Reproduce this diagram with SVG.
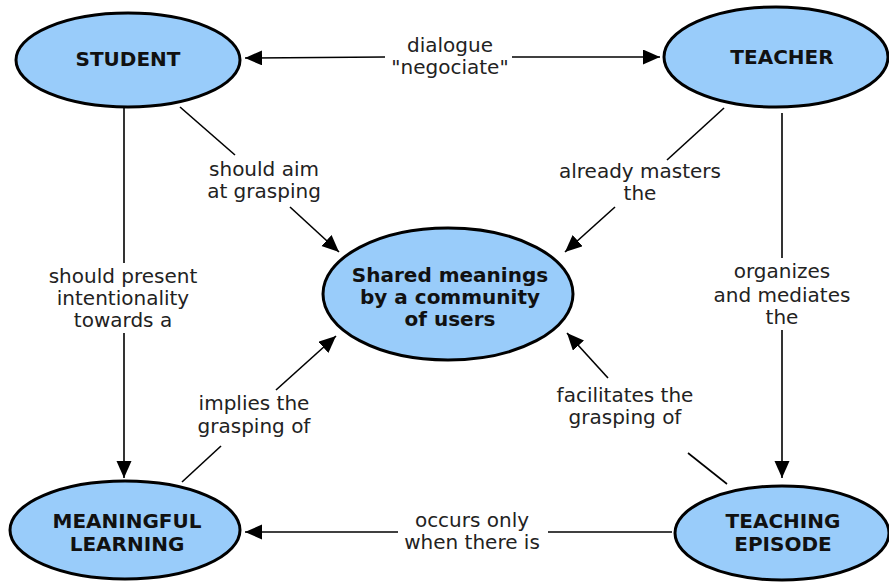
<svg xmlns="http://www.w3.org/2000/svg" width="889" height="582" viewBox="0 0 889 582">
<defs>
<marker id="arr" markerUnits="userSpaceOnUse" markerWidth="20" markerHeight="18" refX="17" refY="7.5" orient="auto-start-reverse">
<path d="M0,0 L17,7.5 L0,15 z" fill="#000"/>
</marker>
<style>
.node ellipse{fill:#99ccfa;stroke:#000;stroke-width:3}
.node text{font-family:"DejaVu Sans",Verdana,sans-serif;font-weight:bold;font-size:20px;text-anchor:middle;fill:#111}
.lbl{font-family:"DejaVu Sans",Verdana,sans-serif;font-size:20px;text-anchor:middle;fill:#222}
.ln{stroke:#000;stroke-width:1.6;fill:none}
.ar{marker-end:url(#arr)}
</style>
</defs>
<rect width="889" height="582" fill="#fff"/>
<g id="connectors">
<line class="ln ar" x1="385" y1="57" x2="245" y2="58"/>
<line class="ln ar" x1="512" y1="57" x2="660" y2="57"/>
<text class="lbl" x="450" y="52">dialogue</text>
<text class="lbl" x="450" y="74">"negociate"</text>

<line class="ln" x1="180" y1="107" x2="235" y2="155"/>
<line class="ln ar" x1="290" y1="207" x2="339" y2="252"/>
<text class="lbl" x="264" y="176">should aim</text>
<text class="lbl" x="264" y="198">at grasping</text>

<line class="ln" x1="124" y1="107" x2="124" y2="263"/>
<line class="ln ar" x1="124" y1="333" x2="124" y2="478"/>
<text class="lbl" x="123" y="283">should present</text>
<text class="lbl" x="123" y="305">intentionality</text>
<text class="lbl" x="123" y="327">towards a</text>

<line class="ln" x1="724" y1="108" x2="667" y2="160"/>
<line class="ln ar" x1="615" y1="207" x2="565" y2="252"/>
<text class="lbl" x="640" y="178">already masters</text>
<text class="lbl" x="640" y="200">the</text>

<line class="ln" x1="782" y1="113" x2="782" y2="258"/>
<line class="ln ar" x1="782" y1="330" x2="782" y2="478"/>
<text class="lbl" x="782" y="278">organizes</text>
<text class="lbl" x="782" y="302">and mediates</text>
<text class="lbl" x="782" y="324">the</text>

<line class="ln" x1="182" y1="482" x2="221" y2="446"/>
<line class="ln ar" x1="276" y1="390" x2="336" y2="336"/>
<text class="lbl" x="254" y="410">implies the</text>
<text class="lbl" x="254" y="433">grasping of</text>

<line class="ln" x1="727" y1="484" x2="688" y2="453"/>
<line class="ln ar" x1="608" y1="378" x2="567" y2="333"/>
<text class="lbl" x="625" y="402">facilitates the</text>
<text class="lbl" x="625" y="424">grasping of</text>

<line class="ln" x1="672" y1="532" x2="548" y2="532"/>
<line class="ln ar" x1="398" y1="532" x2="245" y2="532"/>
<text class="lbl" x="472" y="527">occurs only</text>
<text class="lbl" x="472" y="549">when there is</text>
</g>
<g id="student" class="node">
<ellipse cx="128" cy="60" rx="112" ry="47"/>
<text x="128" y="66">STUDENT</text>
</g>
<g id="teacher" class="node">
<ellipse cx="776" cy="57" rx="112" ry="50"/>
<text x="782" y="64">TEACHER</text>
</g>
<g id="shared" class="node">
<ellipse cx="448" cy="294" rx="125" ry="66"/>
<text x="450" y="282">Shared meanings</text>
<text x="450" y="304">by a community</text>
<text x="450" y="326">of users</text>
</g>
<g id="meaningful" class="node">
<ellipse cx="125" cy="530" rx="115" ry="49"/>
<text x="127" y="528">MEANINGFUL</text>
<text x="127" y="551">LEARNING</text>
</g>
<g id="episode" class="node">
<ellipse cx="782" cy="533" rx="107" ry="47"/>
<text x="783" y="528">TEACHING</text>
<text x="783" y="551">EPISODE</text>
</g>
</svg>
